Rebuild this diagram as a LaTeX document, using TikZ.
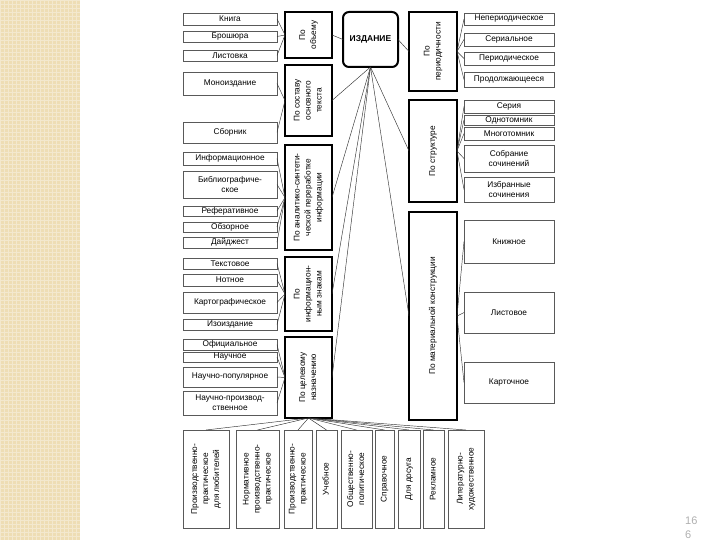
\documentclass[tikz,border=0pt]{standalone}
\usepackage{fontspec}
\setmainfont{Liberation Sans}
\usepackage{graphicx}
\definecolor{beige}{RGB}{238,221,180}
\definecolor{pagenum}{RGB}{175,175,175}
\newcommand{\vtext}[1]{\rotatebox{90}{\renewcommand{\arraystretch}{1.1}\begin{tabular}{@{}c@{}}#1\end{tabular}}}
\tikzset{
  wh/.style 2 args={minimum width=#1, minimum height=#2},
  item/.style={draw=black!65, line width=0.5pt, inner sep=0.5pt, outer sep=0pt, anchor=north west, align=center, font=\fontsize{8.3}{10}\selectfont},
  cat/.style={draw, line width=1.6pt, inner sep=0.5pt, outer sep=0pt, anchor=north west, align=center, font=\fontsize{8.3}{10}\selectfont},
  link/.style={black!80, line width=0.45pt}
}
\begin{document}
\begin{tikzpicture}[x=1pt, y=-1pt]
\useasboundingbox (0,0) rectangle (720,540);
% fon sleva
\fill[beige] (0,0) rectangle (80,540);
\draw[white, opacity=0.35, line width=0.7pt, xstep=4pt, ystep=4pt] (0,0) grid (80,540);
% glavnyj blok
\node[draw, line width=2pt, rounded corners=6pt, anchor=north west, wh={55}{55}, outer sep=0pt, font=\fontsize{8.5}{10}\selectfont\bfseries] (izd) at (343,12) {ИЗДАНИЕ};
% priznaki sleva
\node[cat, wh={47}{46}] (ob) at (285,12) {\vtext{По\\объему}};
\node[cat, wh={47}{71}] (sostav) at (285,65) {\vtext{По составу\\основного\\текста}};
\node[cat, wh={47}{105}] (anal) at (285,145) {\vtext{По аналитико-синтети-\\ческой переработке\\информации}};
\node[cat, wh={47}{74}] (znak) at (285,257) {\vtext{По\\информацион-\\ным знакам}};
\node[cat, wh={47}{81}] (cel) at (285,337) {\vtext{По целевому\\назначению}};
% priznaki sprava
\node[cat, wh={48}{79}] (period) at (409,12) {\vtext{По\\периодичности}};
\node[cat, wh={48}{102}] (strukt) at (409,100) {\vtext{По структуре}};
\node[cat, wh={48}{208}] (mater) at (409,212) {\vtext{По материальной конструкции}};
% vidy sleva
\node[item, wh={94}{12}] (kniga) at (183,13) {Книга};
\node[item, wh={94}{11}] (broshura) at (183,31) {Брошюра};
\node[item, wh={94}{11}] (listovka) at (183,50) {Листовка};
\node[item, wh={94}{23}] (mono) at (183,72) {Моноиздание};
\node[item, wh={94}{21}] (sbornik) at (183,122) {Сборник};
\node[item, wh={94}{13}] (inform) at (183,152) {Информационное};
\node[item, wh={94}{27}] (biblio) at (183,171) {Библиографиче-\\ское};
\node[item, wh={94}{10}] (refer) at (183,206) {Реферативное};
\node[item, wh={94}{10}] (obzor) at (183,222) {Обзорное};
\node[item, wh={94}{11}] (dayj) at (183,237) {Дайджест};
\node[item, wh={94}{11}] (tekst) at (183,258) {Текстовое};
\node[item, wh={94}{12}] (notnoe) at (183,274) {Нотное};
\node[item, wh={94}{21}] (karto) at (183,292) {Картографическое};
\node[item, wh={94}{11}] (izo) at (183,319) {Изоиздание};
\node[item, wh={94}{11}] (ofic) at (183,339) {Официальное};
\node[item, wh={94}{10}] (nauch) at (183,352) {Научное};
\node[item, wh={94}{20}] (nauchpop) at (183,367) {Научно-популярное};
\node[item, wh={94}{24}] (nauchpr) at (183,391) {Научно-производ-\\ственное};
% vidy sprava
\node[item, wh={90}{12}] (neper) at (464,13) {Непериодическое};
\node[item, wh={90}{13}] (serial) at (464,33) {Сериальное};
\node[item, wh={90}{13}] (periodich) at (464,52) {Периодическое};
\node[item, wh={90}{15}] (prodolzh) at (464,72) {Продолжающееся};
\node[item, wh={90}{13}] (seriya) at (464,100) {Серия};
\node[item, wh={90}{10}] (odnotom) at (464,115) {Однотомник};
\node[item, wh={90}{13}] (mnogotom) at (464,127) {Многотомник};
\node[item, wh={90}{27}] (sobranie) at (464,145) {Собрание\\сочинений};
\node[item, wh={90}{25}] (izbran) at (464,177) {Избранные\\сочинения};
\node[item, wh={90}{43}] (knizh) at (464,220) {Книжное};
\node[item, wh={90}{41}] (listov) at (464,292) {Листовое};
\node[item, wh={90}{41}] (kartoch) at (464,362) {Карточное};
% vidy snizu
\node[item, wh={46}{98}] (bA) at (183,430) {\vtext{Производственно-\\практическое\\для любителей}};
\node[item, wh={43}{98}] (bB) at (236,430) {\vtext{Нормативное\\производственно-\\практическое}};
\node[item, wh={28}{98}] (bC) at (284,430) {\vtext{Производственно-\\практическое}};
\node[item, wh={21}{98}] (bD) at (316,430) {\vtext{Учебное}};
\node[item, wh={31}{98}] (bE) at (341,430) {\vtext{Общественно-\\политическое}};
\node[item, wh={19}{98}] (bF) at (375,430) {\vtext{Справочное}};
\node[item, wh={22}{98}] (bG) at (398,430) {\vtext{Для досуга}};
\node[item, wh={21}{98}] (bH) at (423,430) {\vtext{Рекламное}};
\node[item, wh={36}{98}] (bI) at (448,430) {\vtext{Литературно-\\художественное}};
% svyazi
\draw[link] (izd.west) -- (ob.east);
\draw[link] (izd.east) -- (period.west);
\foreach \c in {sostav,anal,znak,cel}
  \draw[link] (izd.south) -- (\c.east);
\foreach \c in {strukt,mater}
  \draw[link] (izd.south) -- (\c.west);
\foreach \n in {kniga,broshura,listovka}
  \draw[link] (ob.west) -- (\n.east);
\foreach \n in {mono,sbornik}
  \draw[link] (sostav.west) -- (\n.east);
\foreach \n in {inform,biblio,refer,obzor,dayj}
  \draw[link] (anal.west) -- (\n.east);
\foreach \n in {tekst,notnoe,karto,izo}
  \draw[link] (znak.west) -- (\n.east);
\foreach \n in {ofic,nauch,nauchpop,nauchpr}
  \draw[link] (cel.west) -- (\n.east);
\foreach \n in {neper,serial,periodich,prodolzh}
  \draw[link] (period.east) -- (\n.west);
\foreach \n in {seriya,odnotom,mnogotom,sobranie,izbran}
  \draw[link] (strukt.east) -- (\n.west);
\foreach \n in {knizh,listov,kartoch}
  \draw[link] (mater.east) -- (\n.west);
\foreach \n in {bA,bB,bC,bD,bE,bF,bG,bH,bI}
  \draw[link] (cel.south) -- (\n.north);
% nomer stranicy
\node[anchor=north west, align=left, text=pagenum, font=\fontsize{11}{14}\selectfont, inner sep=0pt] (pnum) at (685,517) {16\\6};
\end{tikzpicture}
\end{document}
